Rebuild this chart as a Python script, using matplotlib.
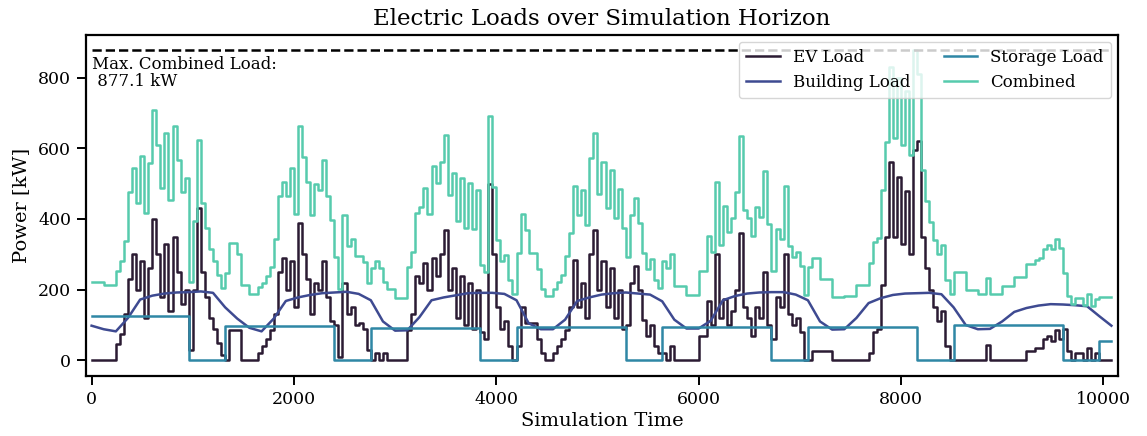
import matplotlib
matplotlib.use('Agg')
import matplotlib.pyplot as plt
import numpy as np

plt.rcParams['font.family'] = 'DejaVu Serif'

# EV load [kW], one value every 40 time steps
step = 40
ev_load = [
    0, 0, 0, 0, 0, 0, 45, 75, 130, 230,
    300, 200, 280, 120, 260, 400, 300, 180, 330, 140,
    350, 250, 160, 200, 30, 200, 430, 250, 180, 120,
    90, 50, 15, 0, 87, 87, 87, 0, 0, 0,
    0, 20, 40, 60, 85, 130, 250, 290, 200, 280,
    150, 390,
    300, 230, 130, 219, 200, 280, 180, 110, 100, 10,
    220, 130, 150, 100, 106, 90, 30, 0, 21, 0,
    21, 0, 0, 0, 0, 0, 87, 130, 240, 220,
    275, 200, 290, 240, 300, 370, 200, 260, 120, 240,
    100, 220, 90, 200, 80, 60, 500, 300, 150, 90,
    110, 40, 0, 40, 150, 106, 106, 106, 60, 20,
    0, 0, 20, 40, 60, 87, 150, 285, 150, 220,
    120, 300, 370, 200, 280, 150, 260, 120, 200, 90,
    100, 220, 266, 200, 115, 70, 100, 40, 20, 21,
    0, 40, 0, 0, 0, 0, 0, 0, 68, 68,
    167, 100, 300, 120, 174, 100, 140, 200, 360, 150,
    120, 70, 150, 120, 250, 100, 60, 180, 150, 300,
    130, 100, 120, 80, 0, 0, 26, 26, 26, 26,
    26, 0, 0, 0, 0, 0, 0, 0, 0, 0,
    20, 80, 90, 214, 350, 560, 350, 520, 330, 480,
    300, 595.1, 620, 350, 260, 200, 150, 110, 140, 40,
    0, 0, 0, 0, 0, 0, 0, 0, 0, 44,
    0, 0, 0, 0, 0, 0, 0, 0, 0, 25,
    25, 35, 35, 60, 70, 55, 85, 60, 90, 25,
    0, 20, 20, 0, 35, 0, 20, 0, 0, 0,
]

# building load [kW], one value every 120 time steps
building_load = [
    98, 88, 82, 120, 172, 183, 189, 192, 193, 195,
    191, 150, 118, 92, 82, 118, 168, 178, 185, 190,
    192, 194, 188, 170, 110, 84, 85, 122, 170, 178,
    184, 190, 191, 191, 188, 170, 105, 88, 88, 115,
    168, 178, 186, 190, 192, 189, 186, 167, 115, 90,
    90, 112, 170, 182, 189, 192, 193, 193, 186, 170,
    110, 87, 88, 120, 162, 176, 185, 189, 190, 191,
    187, 150, 100, 88, 89, 110, 137, 148, 155, 159,
    158, 156, 153, 125,
]

# storage load [kW]: constant blocks, lengths in 40-step cells
storage_levels = [125, 0, 96, 0, 91, 0, 94, 0, 94, 0, 93, 0, 100, 0, 55]
storage_cells = [24, 9, 27, 9, 27, 9, 27, 9, 27, 9, 27, 9, 27, 9, 3]

t = np.arange(len(ev_load)) * step
ev = np.array(ev_load, dtype=float)
building = np.repeat(building_load, 3).astype(float)
storage = np.repeat(storage_levels, storage_cells).astype(float)
combined = ev + building + storage
max_load = combined.max()

# extend by one point so the last step is drawn
t_plot = np.append(t, t[-1] + step)
def ext(a):
    return np.append(a, a[-1])

# building drawn as a plain line through its own points
t_build = np.append(np.arange(len(building_load)) * 120, t_plot[-1])
build_plot = np.append(building_load, 98)

fig, ax = plt.subplots(figsize=(11.47, 4.36), dpi=100)
fig.subplots_adjust(left=0.075, right=0.9747, top=0.92, bottom=0.138)

lw = 1.8
ax.plot(t_plot, ext(ev), drawstyle='steps-post', color='#2b1b33', lw=lw, label='EV Load')
ax.plot(t_build, build_plot, color='#3e4a91', lw=lw, label='Building Load')
ax.plot(t_plot, ext(storage), drawstyle='steps-post', color='#2f87a5', lw=lw, label='Storage Load')
ax.plot(t_plot, ext(combined), drawstyle='steps-post', color='#56cbad', lw=lw, label='Combined')

ax.hlines(max_load, t_plot[0], t_plot[-1], colors='black', linestyles='--', lw=1.8)
ax.text(0, max_load - 16, 'Max. Combined Load:\n %.1f kW' % max_load,
        ha='left', va='top', fontsize=12, linespacing=1.0)

ax.set_xlim(-55, 10145)
ax.set_ylim(-0.05 * max_load, 1.05 * max_load)
ax.set_xticks([0, 2000, 4000, 6000, 8000, 10000])

ax.set_title('Electric Loads over Simulation Horizon', fontsize=16.5, pad=7)
ax.set_xlabel('Simulation Time', fontsize=14, labelpad=3)
ax.set_ylabel('Power [kW]', fontsize=14, labelpad=6)
ax.tick_params(labelsize=12.5, length=6.2, width=1.4, pad=4.5)
for s in ax.spines.values():
    s.set_linewidth(1.6)

ax.legend(loc='upper right', ncol=2, fontsize=12, borderaxespad=0.4,
          handlelength=2.0, columnspacing=2.0, labelspacing=0.45, borderpad=0.45)

plt.savefig('out.png')
